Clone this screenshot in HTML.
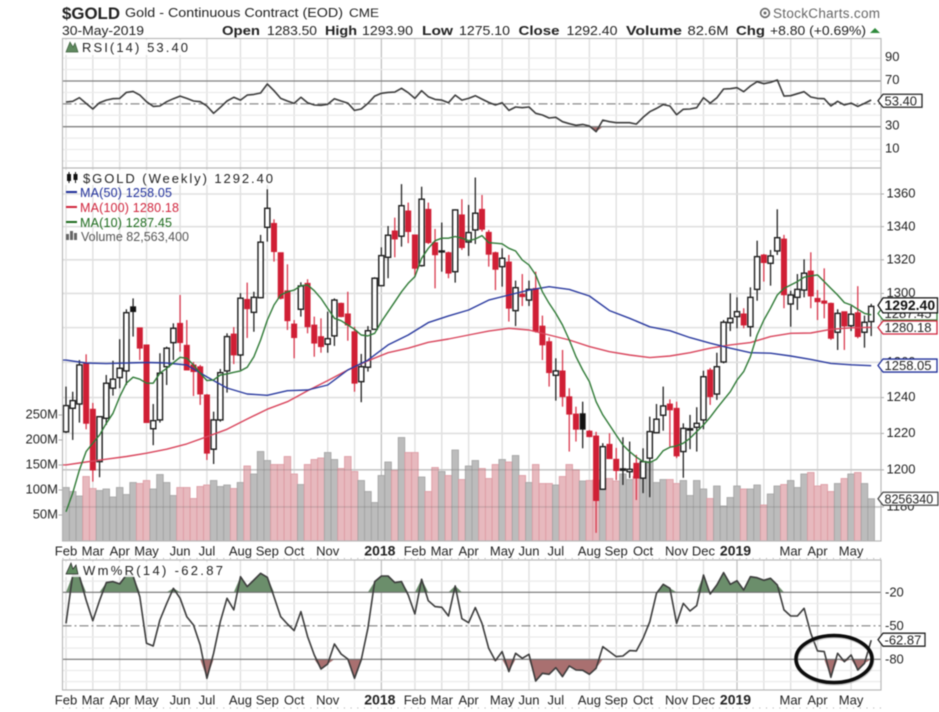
<!DOCTYPE html>
<html lang="en">
<head>
<meta charset="utf-8">
<title>$GOLD Weekly Chart</title>
<style>
html,body{margin:0;padding:0;background:#fff;}
#chart{display:block;width:939px;height:712px;filter:blur(0.4px);font-family:"Liberation Sans",Arial,sans-serif;}
text{font-family:"Liberation Sans",Arial,sans-serif;fill:#222;}
</style>
</head>
<body>
<svg id="chart" xmlns="http://www.w3.org/2000/svg" width="939" height="712" viewBox="0 0 939 712">
  <rect x="0" y="0" width="939" height="712" fill="#fff"/>
  <g id="layer-grid"></g>
  <g id="layer-volume"></g>
  <g id="layer-gridover"></g>
  <g id="layer-candles"></g>
  <g id="layer-lines"></g>

  <g>
    <text x="62" y="19" font-size="17" font-weight="bold" textLength="58" lengthAdjust="spacingAndGlyphs">$GOLD</text>
    <text x="125" y="17" font-size="13" textLength="218" lengthAdjust="spacingAndGlyphs" fill="#333">Gold - Continuous Contract (EOD)</text>
    <text x="349" y="17" font-size="11.5" textLength="30" lengthAdjust="spacingAndGlyphs">CME</text>
    <text x="62" y="35" font-size="12.5" textLength="82" lengthAdjust="spacingAndGlyphs">30-May-2019</text>
    <text x="222" y="35" font-size="13" font-weight="bold" textLength="38" lengthAdjust="spacingAndGlyphs">Open</text>
    <text x="267" y="35" font-size="12.5" textLength="50" lengthAdjust="spacingAndGlyphs">1283.50</text>
    <text x="325" y="35" font-size="13" font-weight="bold" textLength="32" lengthAdjust="spacingAndGlyphs">High</text>
    <text x="362" y="35" font-size="12.5" textLength="51" lengthAdjust="spacingAndGlyphs">1293.90</text>
    <text x="422" y="35" font-size="13" font-weight="bold" textLength="31" lengthAdjust="spacingAndGlyphs">Low</text>
    <text x="459" y="35" font-size="12.5" textLength="51" lengthAdjust="spacingAndGlyphs">1275.10</text>
    <text x="518.5" y="35" font-size="13" font-weight="bold" textLength="41" lengthAdjust="spacingAndGlyphs">Close</text>
    <text x="566.5" y="35" font-size="12.5" textLength="51" lengthAdjust="spacingAndGlyphs">1292.40</text>
    <text x="626" y="35" font-size="13" font-weight="bold" textLength="56" lengthAdjust="spacingAndGlyphs">Volume</text>
    <text x="687.5" y="35" font-size="12.5" textLength="41" lengthAdjust="spacingAndGlyphs">82.6M</text>
    <text x="736" y="35" font-size="13" font-weight="bold" textLength="29" lengthAdjust="spacingAndGlyphs">Chg</text>
    <text x="770" y="35" font-size="12.5" textLength="96" lengthAdjust="spacingAndGlyphs">+8.80 (+0.69%)</text>
    <polygon points="870,33 880,33 875,28" fill="#2f8a3c"/>
    <circle cx="765" cy="13" r="4.4" fill="none" stroke="#666" stroke-width="1.6"/>
    <circle cx="765" cy="13" r="1.5" fill="#666"/>
    <text x="773" y="18" font-size="13.5" textLength="107" lengthAdjust="spacing" style="fill:#666">StockCharts.com</text>
  </g>

  <g>
    <rect x="64" y="40" width="126" height="15" fill="#fff" opacity=".85"/>
    <polygon points="66,52 70,42 73,47 75,43 78,52" fill="#5f8a5f" stroke="#3d5f3d" stroke-width=".7"/>
    <text x="82" y="52" font-size="13" textLength="106" lengthAdjust="spacing">RSI(14) 53.40</text>

    <rect x="64" y="170" width="211" height="15" fill="#fff" opacity=".85"/>
    <line x1="69" x2="69" y1="172" y2="183" stroke="#111" stroke-width="1"/>
    <line x1="75.5" x2="75.5" y1="172" y2="183" stroke="#111" stroke-width="1"/>
    <rect x="67" y="174" width="4" height="7" fill="#111"/>
    <rect x="73.5" y="174" width="4" height="6" fill="#111"/>
    <text x="83" y="183" font-size="13" textLength="190" lengthAdjust="spacing">$GOLD (Weekly) 1292.40</text>

    <rect x="66" y="191" width="11" height="2" fill="#1f2f9a"/>
    <text x="80" y="197" font-size="12.5" textLength="92" lengthAdjust="spacing" style="fill:#1f2f9a">MA(50) 1258.05</text>
    <rect x="66" y="206" width="11" height="2" fill="#d0243c"/>
    <text x="80" y="212" font-size="12.5" textLength="99" lengthAdjust="spacing" style="fill:#d0243c">MA(100) 1280.18</text>
    <rect x="66" y="221" width="11" height="2" fill="#1d6b1d"/>
    <text x="80" y="227" font-size="12.5" textLength="92" lengthAdjust="spacing" style="fill:#1d6b1d">MA(10) 1287.45</text>
    <rect x="66" y="234" width="3" height="6" fill="#666"/>
    <rect x="70" y="231" width="3" height="9" fill="#666"/>
    <rect x="74" y="233" width="3" height="7" fill="#666"/>
    <text x="81" y="241" font-size="12.5" textLength="108" lengthAdjust="spacing" style="fill:#555">Volume 82,563,400</text>

    <rect x="64" y="562" width="162" height="15" fill="#fff" opacity=".85"/>
    <polygon points="66,574 71,563 73,569 76,565 78,574" fill="#5f8a5f" stroke="#222" stroke-width=".7"/>
    <text x="83" y="575" font-size="13" textLength="140" lengthAdjust="spacing">Wm%R(14) -62.87</text>
  </g>

  <g id="layer-axes"></g>
  <g id="layer-tags"></g>

  <ellipse cx="834.5" cy="660" rx="38" ry="23.5" fill="none" stroke="#999" stroke-width="4" opacity=".5"/>
  <ellipse cx="834" cy="659" rx="38" ry="23.5" fill="none" stroke="#0c0c0c" stroke-width="3.6"/>
</svg>

<script>
// ---------- Weekly price data ($GOLD, Feb 2017 - May 2019) ----------
const opens = [
1220.9,1234,1236.4,1259.4,1233.5,1204.5,1228.4,1245.3,1251.3,1255.1,
1292.2,1279.9,1270,1222.6,1227.5,1257.5,1271.3,1282.5,1269.8,1258.5,
1257.5,1241.5,1211.3,1227.5,1255.1,1276.3,1264.2,1296.5,1288.9,1297.5,
1339.6,1342,1324.3,1301.6,1282.1,1290.7,1306,1281.5,1274.8,1270.4,
1275.2,1294.2,1288,1277.6,1249,1257.2,1279,1304.6,1321.5,1337.4,
1334.2,1349.6,1335,1316.5,1350.6,1330.3,1324.7,1324.3,1312.9,1347.2,
1330.7,1338,1350.6,1336.6,1324.3,1315.9,1318.7,1289.9,1299.6,1296.1,
1303,1280.9,1271.9,1252.6,1255.1,1240.5,1230.8,1231,1221.3,1218.6,
1189.5,1214,1205.8,1199.8,1199,1203.6,1195.5,1206.4,1220.4,1230.1,
1236.4,1234,1210,1221.9,1223.4,1227.5,1255.6,1242,1260.2,1282.9,
1286.4,1288,1280.5,1302.4,1322.9,1317.9,1325.3,1332.5,1293.8,1297.7,
1302,1313.3,1297.1,1295.6,1294.2,1277.3,1289.3,1281.1,1288.7,1277.3,1283.5];

const highs = [
1246.2,1243.3,1261.3,1264.6,1237,1229.3,1252.8,1260.9,1273.3,1290.7,
1297.1,1279.9,1270,1236.4,1265.2,1269,1282.5,1299.1,1284.4,1260.2,
1258.5,1242,1232.1,1256.2,1276.7,1280.3,1300.2,1306.4,1301,1335,
1362.9,1344.5,1324.3,1317.3,1284.4,1306.6,1308.4,1286.4,1285.4,1289.3,
1297.1,1294.6,1301,1280.5,1264.8,1280.9,1309.6,1327.5,1340.4,1345.5,
1366.1,1354.7,1335,1364.5,1354.7,1338.6,1342.5,1324.9,1350.6,1356.8,
1353.3,1370.2,1359.4,1338,1324.9,1326.9,1322.9,1307.6,1311.5,1307.6,
1312.9,1287,1274.4,1262.3,1267.1,1245.3,1234.9,1237.7,1221.9,1220.9,
1214.6,1220.1,1212,1217.9,1215.5,1208.2,1211.8,1229.3,1236.4,1246.2,
1239,1237.7,1225.6,1230.3,1234.6,1255.2,1256.8,1265.5,1284.4,1300.1,
1297.7,1291.3,1303.6,1331.5,1323.5,1325.9,1350.6,1335,1301.6,1311.5,
1320.3,1324.5,1302,1314.9,1294.6,1290.7,1289.3,1292.6,1304.3,1287,1293.9];

const lows = [
1220.2,1216.4,1226,1222.3,1193.6,1196,1224.7,1241.1,1245.3,1247.1,
1274.8,1261.3,1225.8,1213.5,1226,1247.1,1261.3,1266.1,1255.6,1240.9,
1235.9,1205.4,1203.2,1226.5,1242.8,1259,1255.6,1274,1277.6,1297.1,
1330.9,1318.9,1296.5,1278.6,1262.3,1286.4,1276.7,1263.2,1265.5,1265.5,
1269.4,1286,1272.4,1243.3,1237.4,1254.7,1278.6,1304.4,1309,1321.5,
1327.9,1330,1309.9,1315.9,1329.5,1303,1312.9,1309,1306.4,1325.9,
1322.3,1329.5,1337,1315.9,1302,1304,1283.5,1280.9,1292.6,1292.6,
1277.1,1261.3,1246.2,1238.3,1234.9,1210,1215.5,1211.8,1217.9,1166.2,
1189.1,1206.1,1194.5,1191.8,1195.5,1183.7,1187.4,1185.2,1220.1,1221.5,
1212.8,1206.4,1195.7,1211.3,1210,1222.3,1235.9,1238.7,1259.4,1278,
1279.6,1279.6,1274.8,1295.7,1307,1304.6,1322.9,1291.3,1280.5,1290.3,
1297.7,1291.3,1284.4,1285.4,1272.9,1267.1,1267.1,1278,1273.8,1268.4,1275.1];

const closes = [
1235.5,1238.3,1258.5,1225.6,1199.9,1229.3,1248.1,1250.4,1256.6,1288.7,
1289.3,1268.1,1226,1227.1,1253.8,1268.1,1279.6,1271.3,1255.6,1254.7,
1242,1209.1,1227.5,1254.1,1274.8,1264.2,1297.2,1291,1297.7,1330.6,
1351.2,1324.9,1297.1,1284,1274.2,1304.4,1280.5,1271,1269,1273.6,
1296.1,1286.4,1281.5,1248.1,1257.5,1278.2,1309,1322.5,1334.8,1332.5,
1352.8,1337,1314.9,1356.8,1330.3,1323,1325.3,1312,1350.2,1327.3,
1336.4,1348.2,1338.4,1323.3,1314.3,1320.9,1291.3,1303.4,1298.1,1302.4,
1277.9,1270,1254.1,1255.1,1240.5,1230.7,1222.3,1222.3,1218.2,1183.4,
1212.7,1206.1,1199.6,1200.5,1200.3,1195.5,1204.5,1221,1227.9,1235.3,
1233.1,1207.6,1222.8,1222.6,1225.6,1251.8,1240.5,1257.5,1283.1,1285.4,
1289.3,1281.5,1297.7,1321.9,1318.3,1322.3,1333.3,1299.2,1299.1,1302.4,
1312,1298.5,1295.1,1294.2,1273.8,1288.3,1280.9,1287.8,1274.8,1283.1,1292.4];

// Weeks where the body is black-filled (close below open, but above the prior close)
const blackFilledWeeks = [10, 77];

// Volume in millions of shares/contracts
const volumes = [
105,97,88,127,103,99,102,86,105,91,
115,113,119,102,131,115,89,105,105,83,
107,110,119,107,110,103,115,148,132,177,
159,151,151,167,132,111,151,161,164,175,
161,143,167,137,119,97,75,129,156,139,
205,175,175,126,97,145,137,129,180,121,
148,159,143,123,151,161,156,169,129,115,
151,113,113,110,127,151,140,118,119,120,
115,123,118,132,121,127,157,157,115,121,
121,113,119,89,119,102,83,108,68,85,
108,102,102,110,70,92,108,111,119,105,
132,135,108,111,97,113,123,132,135,113,82.56];

// 10-week moving average (one reading per week)
const ma10 = [
1177.4,1187.4,1199.9,1210,1214.6,1219.1,1225.6,1231.2,1240.5,1248.1,
1251.5,1250.4,1248.1,1248.1,1253.8,1256.6,1259.8,1262.9,1262.3,1258.5,
1253.8,1249.6,1250,1252.8,1253.4,1254.3,1255.1,1257.2,1263.2,1272.8,
1284.4,1293.2,1299.1,1301,1302,1304.6,1305,1301.6,1297.1,1291.2,
1285.4,1284,1281.5,1279,1275.7,1275.2,1276.7,1283.5,1289.3,1295.1,
1301,1306,1310,1320.9,1326.9,1331.5,1333,1333,1334,1333,
1331.5,1332.5,1334.6,1330.3,1330,1329.6,1326.9,1325.3,1319.9,1316.9,
1311,1301,1294.2,1288.3,1281.5,1272.8,1263.2,1255.6,1249,1237.7,
1230.3,1224.7,1219.1,1213.6,1210,1206.9,1204.5,1204,1205.8,1210.5,
1212.4,1213.1,1214.6,1217.3,1221,1224.7,1229,1234,1238.7,1243.3,
1249.9,1254.7,1263.2,1275.7,1284.4,1291.3,1299.1,1303,1305,1307,
1309.6,1310.4,1311,1307,1303,1299.1,1294.6,1293.2,1290.7,1288.3,1287.45];

// 50- and 100-week moving averages, read every third week
const longMaWeeks = [0,3,6,9,12,15,18,21,24,27,30,33,36,39,42,45,48,51,54,57,60,63,66,69,72,75,78,81,84,87,90,93,96,99,102,105,108,111,114,117,120];
const ma50 = [
1261.3,1259.6,1259.3,1259.6,1259.9,1259.6,1258.5,1251.7,1245.4,1242,
1241.3,1243.9,1244.3,1247.1,1255.6,1261.3,1270,1275.7,1282.9,1286.8,
1290.3,1296.1,1299.1,1302,1304,1302.4,1298.5,1289.9,1285.4,1280.5,
1278.2,1274.2,1271,1268.1,1265.5,1265.2,1263.6,1261.7,1259.4,1258.6,1258.05];
const ma100 = [
1202.7,1204.3,1205.8,1207.3,1209.1,1211.3,1214.2,1218.2,1222.3,1228,
1233.5,1237.7,1243.9,1249.6,1255.6,1260.9,1265.5,1268.1,1271.5,1273.4,
1275.7,1278,1279.6,1278.6,1275.7,1272.8,1269,1266.1,1264.2,1262.7,
1263.6,1265.5,1268.1,1270,1271.3,1274.8,1276.7,1276.9,1279,1279.9,1280.18];

// RSI(14)
const rsiValues = [
51.6,52.2,55.4,50.4,45.5,51,53.3,54.5,54.8,60,
60.9,57.7,51.9,47.8,48.1,51.9,54.5,56.8,54.8,52.5,
51.9,48.1,41.7,46.9,52.5,55.7,53.3,57.7,58.3,59.5,
67.4,61.5,54.8,52.5,50.4,55.7,51,49,48.7,49.6,
54.5,52.5,50.7,44.3,45.5,50.4,56.8,59.2,60,60.3,
63.6,59.8,54.8,61.5,56.3,53.9,53.3,51,57.7,53.3,
54.8,57.1,54.2,51.3,49,51,44.3,47.2,46.6,47.2,
41.7,40.2,37.6,38.2,34.4,32.6,31.2,32,30.6,25.6,
35.8,34.4,33.5,33.5,33.5,32.3,38.2,43.1,46,49.3,
48.1,40.5,45.2,45.5,46.6,55.4,50.7,55.4,63,63.3,
64.1,60.6,65.6,69.4,67.6,68.8,70.9,56.8,57.1,58.9,
60.6,56,54.8,54.5,48.1,52.2,49,50.7,47.8,50.4,53.4];

// Williams %R(14)
const williamsValues = [
-47.8,-4.5,-5.4,-26.9,-45.4,-27.5,-11.3,-10.4,-12.5,-4.5,
-5.4,-23.9,-65.7,-68.1,-44.8,-29.9,-16.4,-25.4,-41.8,-49.3,
-67.2,-97,-74.6,-46.3,-25.4,-35.8,-6,-14.9,-9,-3,
-6.6,-23.9,-41.8,-48.4,-54.3,-37.3,-59.7,-76.1,-88.7,-84.2,
-66.3,-75.2,-79.7,-97,-80.6,-52.2,-10.4,-5.4,-5.4,-11.3,
-10.4,-22.4,-39.4,-8.4,-27.5,-32.8,-33.4,-41.2,-14.3,-43.6,
-47.2,-33.7,-47.8,-70.1,-81.2,-73.1,-91,-74.6,-79.1,-75.5,
-99.4,-92.5,-93.4,-87.5,-95.5,-86,-89.6,-89.8,-93.4,-88,
-68.7,-73.1,-77.6,-77,-72.2,-72.5,-61.2,-46.3,-20.9,-12.8,
-16.4,-47.8,-29.9,-36.7,-31.9,-4.5,-21.5,-13.4,-2.4,-12.8,
-9.6,-17.9,-6,-6.9,-9.3,-7.5,-13.4,-35.8,-41.2,-41.2,
-34.3,-56.7,-72.5,-73.1,-96.1,-74.6,-82.1,-76.1,-89.6,-83.6,-62.87];

// Axis categories and tick labels
const monthWeeks = [0,4,8,12,17,21,26,30,34,39,43,47,52,56,60,65,69,73,78,82,86,91,95,100,104,108,112,117];
const monthLabels = ['Feb','Mar','Apr','May','Jun','Jul','Aug','Sep','Oct','Nov','','2018','Feb','Mar','Apr','May','Jun','Jul','Aug','Sep','Oct','Nov','Dec','2019','','Mar','Apr','May'];
const priceTicks = [1360,1340,1320,1300,1280,1260,1240,1220,1200,1180];
const priceTickLabels = ['1360','1340','1320','1300','1280','1260','1240','1220','1200','1180'];
const volumeTicks = [250,200,150,100,50];
const volumeTickLabels = ['250M','200M','150M','100M','50M'];
const rsiTicks = [90,70,30,10];
const rsiMinorTicks = [90,80,60,40,20,10,0];
const williamsTicks = [-20,-50,-80];
const williamsMinorTicks = [-10,-30,-40,-60,-70,-90,-100];
const lastVolumeLabel = '8256340';
const lastCloseLabel = '1292.40';
const lastMa10Label = '1287.45';
const lastMa100Label = '1280.18';
const lastMa50Label = '1258.05';
const lastRsiLabel = '53.40';
const lastWilliamsLabel = '-62.87';

// ---------- Axis functions ----------
const PLOT_LEFT = 62.5, PLOT_RIGHT = 881;
const xWeek = (w) => 66 + 6.71 * w;
const yPrice = (p) => 194 + 2204 * Math.log(1360 / p);
const yVolume = (v) => 540 - v * 0.5;
const yRsi = (v) => 126.7 - (v - 30) * 1.1425;
const yWilliams = (v) => 592.3 + (-20 - v) * 1.117;

const NS = 'http://www.w3.org/2000/svg';
function make(tag, attrs, parent) {
  const el = document.createElementNS(NS, tag);
  for (const k in attrs) el.setAttribute(k, attrs[k]);
  parent.appendChild(el);
  return el;
}
const gridLayer = document.getElementById('layer-grid');
const volumeLayer = document.getElementById('layer-volume');
const gridOverLayer = document.getElementById('layer-gridover');
const candleLayer = document.getElementById('layer-candles');
const lineLayer = document.getElementById('layer-lines');
const axisLayer = document.getElementById('layer-axes');
const tagLayer = document.getElementById('layer-tags');

const panels = [
  { name: 'rsi', top: 38.5, bottom: 168 },
  { name: 'price', top: 168, bottom: 541 },
  { name: 'williams', top: 560, bottom: 690 }
];

// Vertical month gridlines
panels.forEach(function (panel) {
  monthWeeks.forEach(function (week, idx) {
    const isYear = /^20/.test(monthLabels[idx]);
    const line = make('line', { x1: xWeek(week), x2: xWeek(week), y1: panel.top, y2: panel.bottom, stroke: isYear ? '#bcbcbc' : '#e0e0e0', 'stroke-width': isYear ? 1.2 : 1.4 }, gridLayer);
    
    
  });
});

// Horizontal gridlines
function hLine(layer, y, stroke, width, dash, name) {
  const attrs = { x1: PLOT_LEFT, x2: PLOT_RIGHT, y1: y, y2: y, stroke: stroke, 'stroke-width': width };
  if (dash) attrs['stroke-dasharray'] = dash;
  const line = make('line', attrs, layer);
  
  
}
rsiMinorTicks.forEach(function (v) { hLine(gridLayer, yRsi(v), '#ebebeb', 1.2, null, 'rsi-minor-gridline'); });
williamsMinorTicks.forEach(function (v) { hLine(gridLayer, yWilliams(v), '#ebebeb', 1.2, null, 'williams-minor-gridline'); });
priceTicks.forEach(function (p) { hLine(gridLayer, yPrice(p), '#e0e0e0', 1.6, null, 'price-gridline'); });

// Volume bars (tinted red on down-weeks)
function isRed(i) {
  return closes[i] < opens[i] && blackFilledWeeks.indexOf(i) === -1;
}
volumes.forEach(function (v, i) {
  const red = isRed(i);
  const bar = make('rect', {
    x: xWeek(i) - 3.3, y: yVolume(v), width: 6.6, height: yVolume(0) - yVolume(v) + 1,
    fill: red ? '#e7b9be' : '#bcbcbc', stroke: red ? '#dd9aa2' : '#a2a2a2', 'stroke-width': 0.8
  }, volumeLayer);
  
  
});
priceTicks.slice(-2).forEach(function (p) { hLine(gridOverLayer, yPrice(p), 'rgba(90,90,90,.22)', 1.4, null, 'price-gridline-over-volume'); });

// Candlesticks
opens.forEach(function (open, i) {
  const close = closes[i];
  const x = xWeek(i);
  const hollow = close >= open;
  const red = isRed(i);
  const black = blackFilledWeeks.indexOf(i) !== -1;
  const colour = red ? '#d01f35' : '#1c1c1c';
  const wick = make('line', { x1: x, x2: x, y1: yPrice(highs[i]), y2: yPrice(lows[i]), stroke: red ? '#d9394e' : '#222', 'stroke-width': 1.3 }, candleLayer);
  
  
  const top = yPrice(Math.max(open, close));
  const bottom = yPrice(Math.min(open, close));
  const body = make('rect', {
    x: x - 2.6, y: top, width: 5.2, height: Math.max(bottom - top, 0.8),
    fill: hollow ? '#fff' : (black ? '#111' : colour), stroke: colour, 'stroke-width': hollow ? 1.4 : 0.8
  }, candleLayer);
  
  
});

// Moving averages
function polylineFrom(layer, weeks, values, yFn, stroke, width, name) {
  const pts = values.map(function (v, i) { return xWeek(weeks ? weeks[i] : i).toFixed(1) + ',' + yFn(v).toFixed(1); }).join(' ');
  const line = make('polyline', { points: pts, fill: 'none', stroke: stroke, 'stroke-width': width, 'stroke-linejoin': 'round' }, layer);
  
  
}
make('line', { x1: PLOT_LEFT, x2: xWeek(0), y1: yPrice(ma50[0]), y2: yPrice(ma50[0]), stroke: '#2a3a9f', 'stroke-width': 1.3 }, lineLayer);
make('line', { x1: PLOT_LEFT, x2: xWeek(0), y1: yPrice(ma100[0]), y2: yPrice(ma100[0]), stroke: '#d9455c', 'stroke-width': 1.3 }, lineLayer);
polylineFrom(lineLayer, longMaWeeks, ma100, yPrice, '#d9455c', 1.4, 'ma100-line');
polylineFrom(lineLayer, longMaWeeks, ma50, yPrice, '#2a3a9f', 1.4, 'ma50-line');
polylineFrom(lineLayer, null, ma10, yPrice, '#2f7a36', 1.4, 'ma10-line');

// Oscillator shading and lines
function areaBeyond(values, yFn, level, above, fill, name) {
  const base = yFn(level);
  const first = xWeek(0), last = xWeek(values.length - 1);
  let d = 'M' + first + ',' + base;
  values.forEach(function (v, i) {
    const y = yFn(v);
    const clipped = above ? Math.min(y, base) : Math.max(y, base);
    d += ' L' + xWeek(i).toFixed(1) + ',' + clipped.toFixed(1);
  });
  d += ' L' + last + ',' + base + ' Z';
  const area = make('path', { d: d, fill: fill, stroke: 'none' }, lineLayer);
  
  
}
areaBeyond(rsiValues, yRsi, 70, true, '#6b8e6b', 'rsi-overbought-area');
areaBeyond(rsiValues, yRsi, 30, false, '#a97070', 'rsi-oversold-area');
areaBeyond(williamsValues, yWilliams, -20, true, '#6b8e6b', 'williams-overbought-area');
areaBeyond(williamsValues, yWilliams, -80, false, '#a97070', 'williams-oversold-area');

hLine(lineLayer, yRsi(70), '#808080', 1.3, null, 'rsi-70-line');
hLine(lineLayer, yRsi(30), '#808080', 1.3, null, 'rsi-30-line');
hLine(lineLayer, yRsi(50), '#8c8c8c', 1.2, '9 3 2 3', 'rsi-50-line');
hLine(lineLayer, yWilliams(-20), '#707070', 1.2, null, 'williams-20-line');
hLine(lineLayer, yWilliams(-80), '#707070', 1.2, null, 'williams-80-line');
hLine(lineLayer, yWilliams(-50), '#808080', 1.2, '9 3 2 3', 'williams-50-line');

polylineFrom(lineLayer, null, rsiValues, yRsi, '#3c3c3c', 1.6, 'rsi-line');
polylineFrom(lineLayer, null, williamsValues, yWilliams, '#3c3c3c', 1.6, 'williams-line');

// Panel frames
panels.forEach(function (panel) {
  const frame = make('rect', { x: PLOT_LEFT, y: panel.top, width: PLOT_RIGHT - PLOT_LEFT, height: panel.bottom - panel.top, fill: 'none', stroke: '#b4b4b4', 'stroke-width': 1.1 }, axisLayer);
  
  
});

// Axis labels
function label(text, x, y, anchor, name, size) {
  const t = make('text', { x: x, y: y, 'text-anchor': anchor, 'font-size': size || 13 }, axisLayer);
  t.textContent = text;
  
  
  return t;
}
monthWeeks.forEach(function (week, idx) {
  const text = monthLabels[idx];
  if (!text) return;
  const isYear = /^20/.test(text);
  [555.5, 704.5].forEach(function (y) {
    const t = label(text, xWeek(week) - (isYear ? 1.5 : 0), y, 'middle', 'month-label', isYear ? 14 : 13);
    if (isYear) t.setAttribute('font-weight', 'bold');
  });
});
[558.5, 708].forEach(function (y) {
  const dots = make('line', { x1: PLOT_LEFT, x2: PLOT_RIGHT, y1: y, y2: y, stroke: '#aaa', 'stroke-width': 1, 'stroke-dasharray': '1 5.7' }, axisLayer);
  
  
});
priceTicks.forEach(function (p, idx) {
  label(priceTickLabels[idx], 886.5, yPrice(p) + 3.6, 'start', 'price-axis-label');
  const tick = make('line', { x1: PLOT_RIGHT, x2: PLOT_RIGHT + 3, y1: yPrice(p), y2: yPrice(p), stroke: '#aaa', 'stroke-width': 1 }, axisLayer);
  
  
});
volumeTicks.forEach(function (v, idx) {
  label(volumeTickLabels[idx], 58, yVolume(v) + 3.5, 'end', 'volume-axis-label');
  const tick = make('line', { x1: 58.5, x2: PLOT_LEFT, y1: yVolume(v), y2: yVolume(v), stroke: '#aaa', 'stroke-width': 1 }, axisLayer);
  
  
});
rsiTicks.forEach(function (v) {
  label(String(v), 885, yRsi(v) + 3, 'start', 'rsi-axis-label');
});
williamsTicks.forEach(function (v) {
  label(String(v), 885, yWilliams(v) + 4, 'start', 'williams-axis-label');
});

// Right-hand value tags
function valueTag(text, yCentre, xRight, stroke, colour, bold, name, fontSize, halfHeight) {
  const half = halfHeight || 6.5;
  const y1 = yCentre - half, y2 = yCentre + half;
  const shape = make('polygon', { points: '878,' + yCentre + ' 883,' + y1 + ' ' + xRight + ',' + y1 + ' ' + xRight + ',' + y2 + ' 883,' + y2, fill: '#fff', stroke: stroke, 'stroke-width': 1.3 }, tagLayer);
  
  
  const t = make('text', { x: 884.5, y: yCentre + 4.6, 'font-size': fontSize || 13, 'font-weight': bold ? 'bold' : 'normal' }, tagLayer);
  t.style.fill = colour;
  t.textContent = text;
  
  
}
valueTag(lastRsiLabel, yRsi(rsiValues[rsiValues.length - 1]) + 0.8, 922, '#222', '#222', false, 'rsi-value-tag');
valueTag(lastMa10Label, yPrice(ma10[ma10.length - 1]) - 1.3, 937, '#33803a', '#222', false, 'ma10-value-tag');
valueTag(lastCloseLabel, yPrice(closes[closes.length - 1]) - 1, 937.5, '#111', '#111', true, 'close-value-tag', 14, 7.5);
valueTag(lastMa100Label, yPrice(ma100[ma100.length - 1]) + 0.2, 937, '#d0243c', '#222', false, 'ma100-value-tag');
valueTag(lastMa50Label, yPrice(ma50[ma50.length - 1]) - 0.2, 937, '#1f2f9a', '#222', false, 'ma50-value-tag');
valueTag(lastVolumeLabel, yVolume(volumes[volumes.length - 1]), 938, '#444', '#222', false, 'volume-value-tag', 12.5);
valueTag(lastWilliamsLabel, yWilliams(williamsValues[williamsValues.length - 1]) - 0.5, 925, '#222', '#222', false, 'williams-value-tag');
</script>
</body>
</html>
